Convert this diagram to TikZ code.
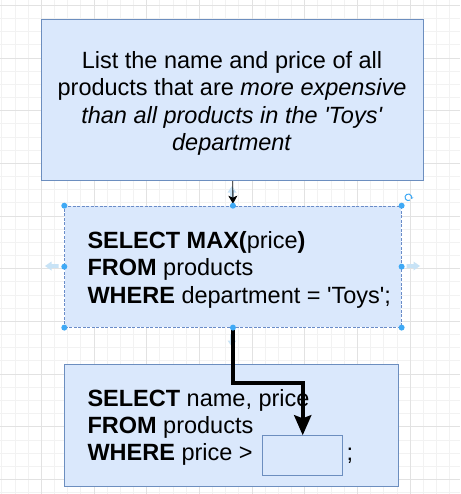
\documentclass[tikz,border=0pt]{standalone}
\usepackage{fontspec}
\setmainfont{Liberation Sans}
\newfontfamily\sqlfont{Liberation Sans}
\usetikzlibrary{arrows.meta}

\definecolor{boxfill}{HTML}{DAE8FC}
\definecolor{boxline}{HTML}{6C8EBF}
\definecolor{selline}{HTML}{6A8CC8}
\definecolor{gridminor}{HTML}{F2F2F2}
\definecolor{gridmajor}{HTML}{E2E2E2}
\definecolor{handleblue}{HTML}{3FA9F5}
\definecolor{hintblue}{HTML}{C8E3F6}

\begin{document}
\begin{tikzpicture}[x=1pt,y=-1pt,
  box/.style={draw=boxline, fill=boxfill, line width=1.1pt, inner sep=0pt, anchor=north west},
  selbox/.style={fill=boxfill, draw=selline, line width=0.9pt, dash pattern=on 3pt off 1.5pt, inner sep=0pt, anchor=north west},
  txt/.style={inner sep=0pt, font=\sqlfont\fontsize{23.5pt}{27.3pt}\selectfont},
  handle/.style={circle, fill=handleblue, inner sep=0pt, minimum size=6pt},
  hint/.style={fill=hintblue},
  link/.style={draw=black, line width=0.9pt, -{Stealth[length=8pt,width=9pt,inset=2pt]}},
  flow/.style={draw=black, line width=4pt, -{Stealth[length=20pt,width=17pt,inset=3pt]}}
]
\useasboundingbox (0,0) rectangle (460,494);
\fill[white] (0,0) rectangle (460,494);

% background grid: fine lines, with a stronger line every fourth step
\foreach \k in {0,...,34}
  \draw[gridminor, line width=0.8pt] ({1.8+13.17*\k},0) -- ++(0,494);
\foreach \k in {0,...,37}
  \draw[gridminor, line width=0.8pt] (0,{5.3+13.17*\k}) -- ++(460,0);
\foreach \k in {3,7,...,31}
  \draw[gridmajor, line width=0.8pt] ({1.8+13.17*\k},0) -- ++(0,494);
\foreach \k in {0,4,...,36}
  \draw[gridmajor, line width=0.8pt] (0,{5.3+13.17*\k}) -- ++(460,0);

% the three boxes and the empty slot
\node[box, minimum width=382.3pt, minimum height=161pt] (task) at (41,19) {};
\node[selbox, minimum width=336.4pt, minimum height=121pt] (query) at (64.3,205.7) {};
\node[box, minimum width=333.4pt, minimum height=121.7pt] (outer) at (64.3,364) {};
\node[box, minimum width=79.7pt, minimum height=39.7pt] (slot) at (262.3,435.3) {};

% texts
\node[txt, align=center, anchor=north] (tasktext) at (232,50.3)
  {\rule{0pt}{18pt}List the name and price of all\\
   products that are \textit{more expensive}\\
   \textit{than all products in the 'Toys'}\\
   \textit{department}};
\node[txt, align=left, anchor=north west] (querytext) at (87.3,230.3)
  {\rule{0pt}{18pt}\textbf{SELECT MAX(}price\textbf{)}\\
   \textbf{FROM} products\\
   \textbf{WHERE} department = 'Toys';};
\node[txt, align=left, anchor=north west] (outertext) at (87.3,388)
  {\rule{0pt}{18pt}\textbf{SELECT} name, price\\
   \textbf{FROM} products\\
   \textbf{WHERE} price >};
\node[txt, anchor=base west] (semi) at (346.5,460.6) {;};

% hover hints around the selected box
\fill[hint] (45,266) -- (51.5,261.5) -- (51.5,264.2) -- (58.5,264.2) -- (58.5,267.8) -- (51.5,267.8) -- (51.5,270.5) -- cycle;
\fill[hint] (420,266) -- (413.5,261.5) -- (413.5,264.2) -- (406.5,264.2) -- (406.5,267.8) -- (413.5,267.8) -- (413.5,270.5) -- cycle;
\fill[hint] (232,186) -- (227.5,192.5) -- (230.2,192.5) -- (230.2,199) -- (233.8,199) -- (233.8,192.5) -- (236.5,192.5) -- cycle;
\fill[hint] (232,347) -- (227.5,340.5) -- (230.2,340.5) -- (230.2,334) -- (233.8,334) -- (233.8,340.5) -- (236.5,340.5) -- cycle;

% connectors
\draw[link, shorten >=2pt] (task.south) -- (query.north);
\draw[flow] (query.south) -- ++(0,55) -| (slot.north);

% selection handles
\foreach \a [count=\i] in {north west,north,north east,west,east,south west,south,south east}
  \node[handle] (h\i) at (query.\a) {};
\coordinate (rot) at (408.3,197.3);
\draw[handleblue, line width=1pt, -{Stealth[length=2.4pt,width=3pt]}]
  ([shift={(60:3.3)}]rot) arc[start angle=60, end angle=390, radius=3.3];
\end{tikzpicture}
\end{document}
